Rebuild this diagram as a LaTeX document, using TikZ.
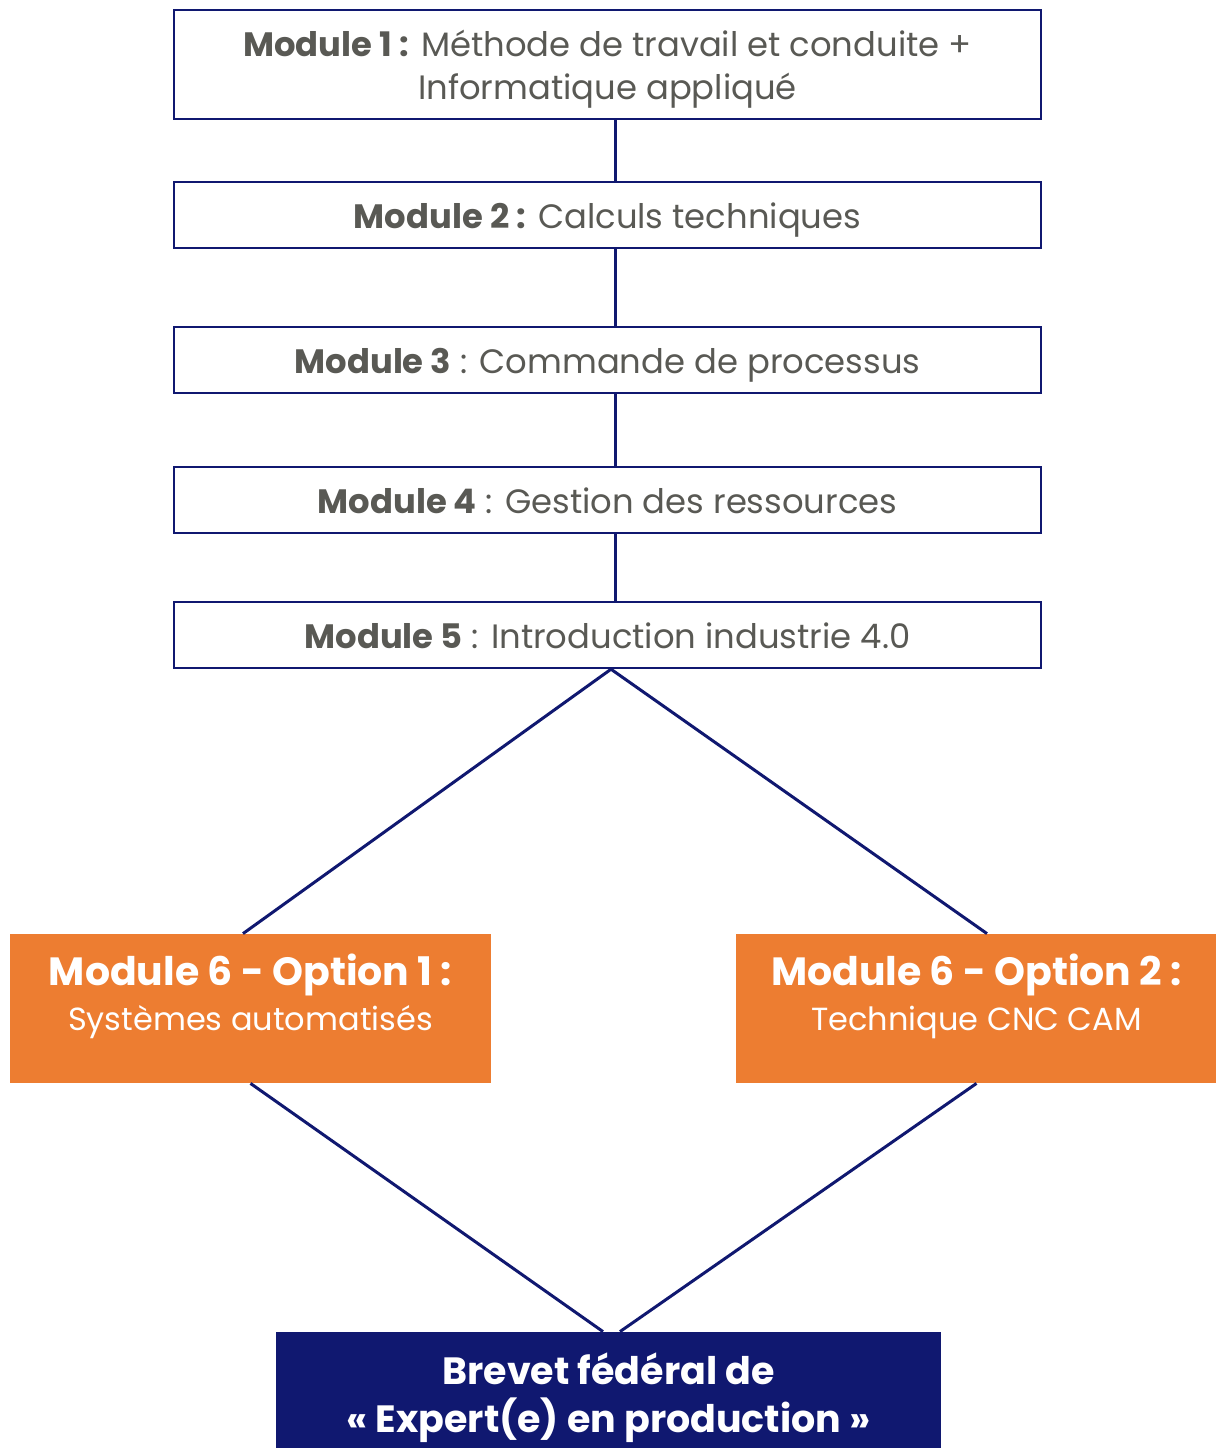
\documentclass[tikz,border=0pt]{standalone}
\usepackage{fontspec}
\setmainfont{Poppins}
\usetikzlibrary{positioning}
\definecolor{navy}{RGB}{16,24,112}
\definecolor{orange6}{RGB}{237,125,49}
\definecolor{textgray}{RGB}{89,89,84}

\begin{document}
\begin{tikzpicture}[x=0.5pt,y=-0.5pt,
  module/.style={draw=navy,line width=1.2pt,fill=white,minimum width=433.5pt,minimum height=33pt,
    inner sep=0pt,align=center,text=textgray,text height=13pt,text depth=0pt,
    font=\fontsize{16.9}{21.5}\selectfont},
  option/.style={fill=orange6,minimum width=240.5pt,minimum height=74.5pt,inner sep=0pt},
  optiontext/.style={text=white,align=center,inner sep=0pt,font=\fontsize{16}{22.5}\selectfont},
  brevet/.style={fill=navy,text=white,minimum width=332.5pt,minimum height=66pt,inner sep=0pt,
    align=center,font=\fontsize{19}{24}\selectfont\bfseries},
  link/.style={navy,line width=1.5pt}]
    \useasboundingbox (0,0) rectangle (1216,1448);
    % modules
    \node[module,minimum height=54.5pt,text height=34.5pt] (m1) at (607.5,64.5) {\textbf{Module 1 :} Méthode de travail et conduite +\\Informatique appliqué};
    \node[module] (m2) at (607.5,215) {\textbf{Module 2 :} Calculs techniques};
    \node[module] (m3) at (607.5,360) {\textbf{Module 3} : Commande de processus};
    \node[module] (m4) at (607.5,500) {\textbf{Module 4} : Gestion des ressources};
    \node[module] (m5) at (607.5,635) {\textbf{Module 5} : Introduction industrie 4.0};
    % options
    \node[option] (opt1) at (250.5,1008.5) {};
    \node[option] (opt2) at (976.5,1008.5) {};
    \node[optiontext,below=10pt of opt1.north] (opt1t) {{\fontsize{19.7}{22.5}\selectfont\bfseries Module 6 - Option 1 :}\\Systèmes automatisés};
    \node[optiontext,below=10pt of opt2.north] (opt2t) {{\fontsize{19.7}{22.5}\selectfont\bfseries Module 6 - Option 2 :}\\Technique CNC CAM};
    % diploma
    \node[brevet] (bf) at (608.5,1398) {Brevet fédéral de\\« Expert(e) en production »};
    \foreach \a/\b in {m1/m2,m2/m3,m3/m4,m4/m5}
        \draw[link] ([xshift=3.75pt]\a.south) -- ([xshift=3.75pt]\b.north);
    \draw[link] ([xshift=1.75pt]m5.south) -- ([xshift=-3.75pt]opt1.north);
    \draw[link] ([xshift=1.75pt]m5.south) -- ([xshift=5.25pt]opt2.north);
    \draw[link] (opt1.south) -- ([xshift=-2.75pt]bf.north);
    \draw[link] (opt2.south) -- ([xshift=5.75pt]bf.north);
\end{tikzpicture}
\end{document}
